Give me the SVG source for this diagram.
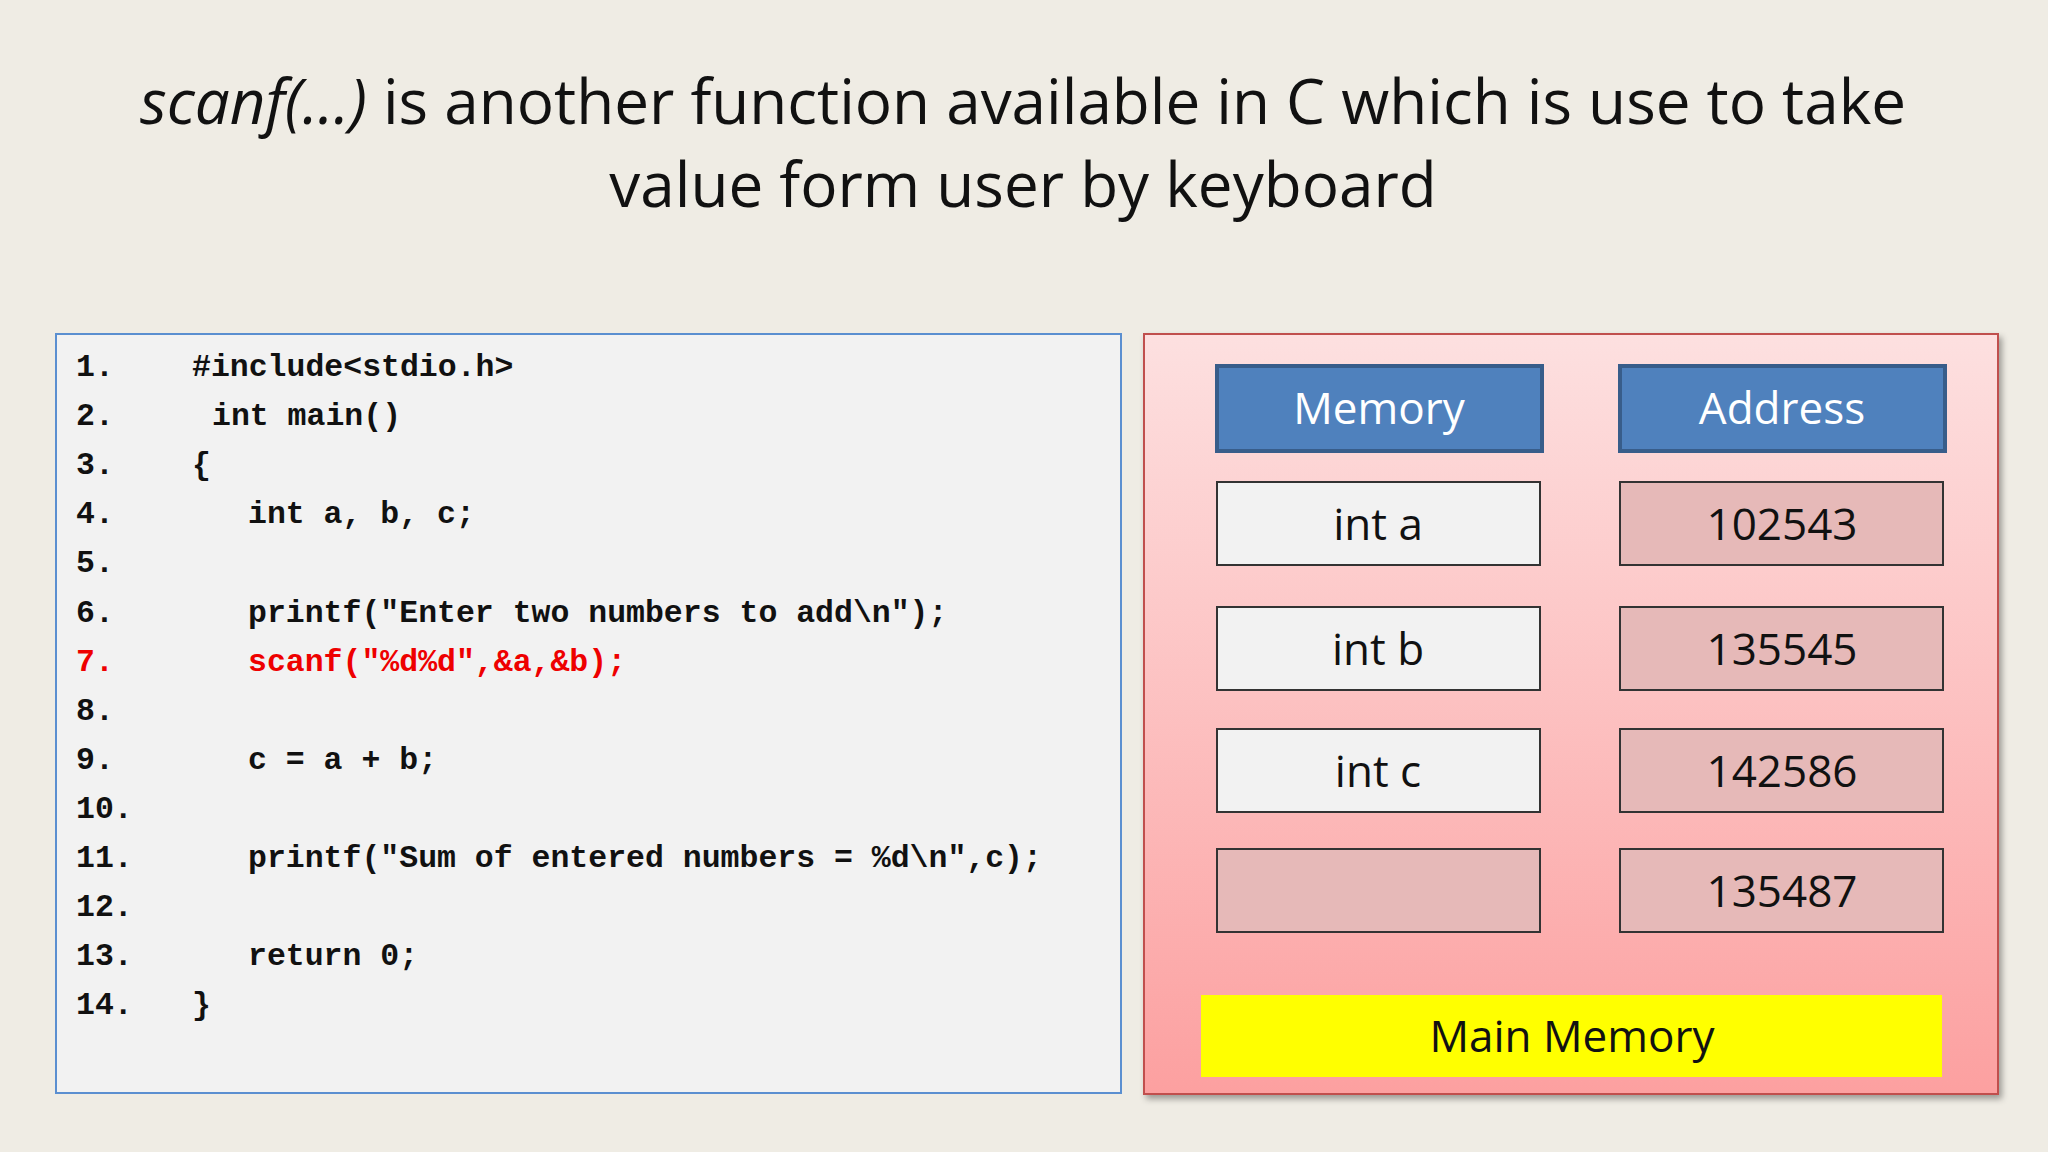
<svg xmlns="http://www.w3.org/2000/svg" width="2048" height="1152" viewBox="0 0 2048 1152">
<defs>
<linearGradient id="pg" x1="0" y1="0" x2="0" y2="1"><stop offset="0" stop-color="#fde0e0"/><stop offset="1" stop-color="#fca0a0"/></linearGradient>
<filter id="sh" x="-5%" y="-5%" width="115%" height="115%"><feDropShadow dx="3" dy="4" stdDeviation="3" flood-opacity="0.35"/></filter>
</defs>
<style>
.t{font-family:"Open Sans","Noto Sans",sans-serif;font-size:62px;fill:#111}
.c{font-family:"Liberation Mono","DejaVu Sans Mono",monospace;font-size:31.5px;font-weight:bold;fill:#111}
.r{fill:#e00}
.m{font-family:"Open Sans","Noto Sans",sans-serif;font-size:44px;text-anchor:middle;fill:#111}
.hd{fill:#4f81bd;stroke:#385d8a;stroke-width:4}
.cell{stroke:#333;stroke-width:2}
</style>
<rect width="2048" height="1152" fill="#efece4"/>
<g id="title">
<text class="t" x="1023" y="124" text-anchor="middle"><tspan font-style="italic">scanf(...)</tspan> is another function available in C which is use to take</text>
<text class="t" x="1023" y="207" text-anchor="middle">value form user by keyboard</text>
</g>
<g id="code">
<rect x="56" y="334" width="1065" height="759" fill="#f2f2f2" stroke="#5b8fd0" stroke-width="2"/>
<g class="c">
<text x="76" y="376">1.</text><text x="192" y="376">#include&lt;stdio.h&gt;</text>
<text x="76" y="425">2.</text><text x="212" y="425">int main()</text>
<text x="76" y="474">3.</text><text x="192" y="474">{</text>
<text x="76" y="523">4.</text><text x="248" y="523">int a, b, c;</text>
<text x="76" y="572">5.</text>
<text x="76" y="622">6.</text><text x="248" y="622">printf("Enter two numbers to add\n");</text>
<text x="76" y="671" class="c r">7.</text><text x="248" y="671" class="c r">scanf("%d%d",&amp;a,&amp;b);</text>
<text x="76" y="720">8.</text>
<text x="76" y="769">9.</text><text x="248" y="769">c = a + b;</text>
<text x="76" y="818">10.</text>
<text x="76" y="867">11.</text><text x="248" y="867">printf("Sum of entered numbers = %d\n",c);</text>
<text x="76" y="916">12.</text>
<text x="76" y="965">13.</text><text x="248" y="965">return 0;</text>
<text x="76" y="1014">14.</text><text x="192" y="1014">}</text>
</g>
</g>
<g id="memory">
<rect x="1144" y="334" width="854" height="760" fill="url(#pg)" stroke="#c0504d" stroke-width="2" filter="url(#sh)"/>
<rect class="hd" x="1217" y="366" width="325" height="85"/><text class="m" x="1379" y="424" style="fill:#fff">Memory</text>
<rect class="hd" x="1620" y="366" width="325" height="85"/><text class="m" x="1782" y="424" style="fill:#fff">Address</text>
<rect class="cell" x="1217" y="482" width="323" height="83" fill="#f2f2f2"/><text class="m" x="1378" y="540">int a</text>
<rect class="cell" x="1620" y="482" width="323" height="83" fill="#e6b9b8"/><text class="m" x="1782" y="540">102543</text>
<rect class="cell" x="1217" y="607" width="323" height="83" fill="#f2f2f2"/><text class="m" x="1378" y="665">int b</text>
<rect class="cell" x="1620" y="607" width="323" height="83" fill="#e6b9b8"/><text class="m" x="1782" y="665">135545</text>
<rect class="cell" x="1217" y="729" width="323" height="83" fill="#f2f2f2"/><text class="m" x="1378" y="787">int c</text>
<rect class="cell" x="1620" y="729" width="323" height="83" fill="#e6b9b8"/><text class="m" x="1782" y="787">142586</text>
<rect class="cell" x="1217" y="849" width="323" height="83" fill="#e6b9b8"/>
<rect class="cell" x="1620" y="849" width="323" height="83" fill="#e6b9b8"/><text class="m" x="1782" y="907">135487</text>
<rect x="1201" y="995" width="741" height="82" fill="#ffff00"/><text class="m" x="1572" y="1052">Main Memory</text>
</g>
</svg>
